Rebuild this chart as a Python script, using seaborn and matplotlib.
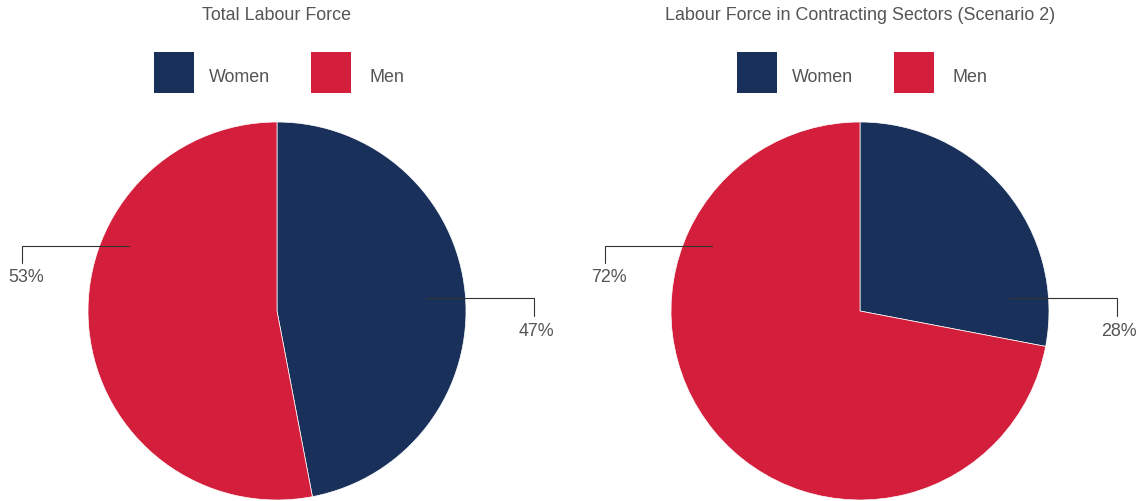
import matplotlib
matplotlib.use("Agg")
import matplotlib.pyplot as plt
from matplotlib.patches import Rectangle
import seaborn as sns

# Data
categories = ["Women", "Men"]
total_share = [47, 53]
contracting_share = [28, 72]
titles = ["Total Labour Force", "Labour Force in Contracting Sectors (Scenario 2)"]

sns.set_theme(style="white")
plt.rcParams["font.family"] = ["Liberation Sans", "DejaVu Sans"]

palette = sns.color_palette(["#19315a", "#d31f3b"])
TEXT = "#555555"
LINE = "#333333"
FS = 12.9

W, H = 1143, 501
R = 189.0  # pie radius in pixels
fig = plt.figure(figsize=(W / 100, H / 100), dpi=100)

# each panel: (left px, right px, pie centre x px)
panels = [(0, 571, 277), (571, 1143, 860)]
CY = 311

# label anchor offsets (pixels from pie centre): inner point, elbow x, drop, text centre
label_style = {
    "Women": dict(inner=(149, -13), elbow=257, drop=18, text=(259, -33)),
    "Men": dict(inner=(-148, -65), elbow=-255, drop=17, text=(-251, -32)),
}
# legend swatch left edge (relative to pie centre) and gap to its text
legend_style = {"Women": (154 - 277, 55), "Men": (311 - 277, 59)}


def px(v):
    return v / R


for (x0, x1, cx), title, values in zip(panels, titles, [total_share, contracting_share]):
    ax = fig.add_axes([x0 / W, 0, (x1 - x0) / W, 1])
    ax.pie(values, colors=palette, startangle=90, counterclock=False, radius=1,
           wedgeprops=dict(edgecolor="white", linewidth=0.5))
    ax.set_aspect("auto")
    ax.set_xlim(px(x0 - cx), px(x1 - cx))
    ax.set_ylim(px(CY - H), px(CY))
    ax.axis("off")

    ax.text(0, px(CY - 15), title, ha="center", va="center", fontsize=FS, color=TEXT)

    for cat, col, val in zip(categories, palette, values):
        lx, gap = legend_style[cat]
        ax.add_patch(Rectangle((px(lx), px(CY - 93)), px(40), px(41), facecolor=col,
                               edgecolor="none", clip_on=False))
        ax.text(px(lx + gap), px(CY - 77), cat, ha="left", va="center", fontsize=FS, color=TEXT)

        st = label_style[cat]
        ix, iy = st["inner"]
        ex = st["elbow"]
        ax.plot([px(ix), px(ex), px(ex)], [px(-iy), px(-iy), px(-iy - st["drop"])],
                color=LINE, lw=0.8, clip_on=False, solid_joinstyle="miter")
        tx, ty = st["text"]
        ax.text(px(tx), px(-iy + ty), f"{val}%", ha="center", va="center",
                fontsize=FS, color=TEXT)

fig.savefig("out.png", dpi=100)
